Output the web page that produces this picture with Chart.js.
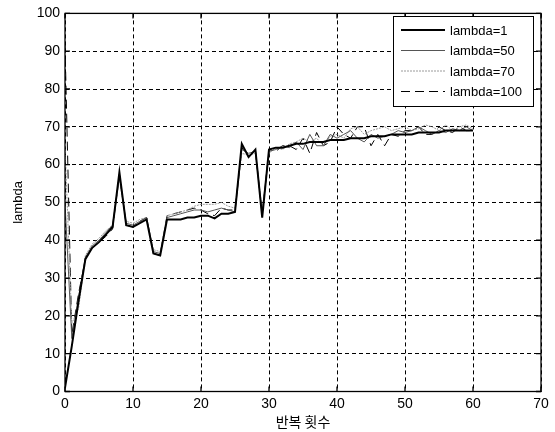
<!DOCTYPE html>
<html>
<head>
<meta charset="utf-8">
<script src="https://cdn.jsdelivr.net/npm/chart.js@4/dist/chart.umd.min.js"></script>
<style>
html,body{margin:0;padding:0;background:#fff;}
#wrap{width:555px;height:432px;}
</style>
</head>
<body>
<div id="wrap"><canvas id="c" width="555" height="432"></canvas></div>
<script>
const iterations = Array.from({length: 61}, (_, i) => i);
const seriesLabels = ["lambda=1", "lambda=50", "lambda=70", "lambda=100"];
const xTicks = [0, 10, 20, 30, 40, 50, 60, 70];
const yTicks = [0, 10, 20, 30, 40, 50, 60, 70, 80, 90, 100];
const xTitle = "반복 횟수";
const yTitle = "lambda";

const lambda1 = [1, 12, 24, 35, 38, 39.5, 41.5, 43.5, 58, 44, 43.5, 44.5, 45.5, 36.5, 36,
  45.5, 45.5, 45.5, 46, 46, 46.5, 46.5, 45.8, 47, 47, 47.5, 65.5, 62, 64, 46, 64,
  64.5, 64.5, 65, 65.5, 65.5, 66, 66, 66, 66.5, 66.5, 66.5, 67, 67, 67, 67.5, 67.5,
  67.5, 68, 68, 68, 68, 68.5, 68.5, 68.5, 68.5, 69, 69, 69, 69, 69];
const lambda50 = [50, 14, 25, 35.5, 38.5, 40, 42, 44, 57, 44.5, 44, 45, 46, 37, 36.5,
  46, 46.5, 47, 47.5, 48, 48, 47.5, 48, 48.5, 48, 47.5, 64, 63, 63.5, 47, 63.5,
  64, 65, 64.5, 66, 64, 68, 65, 65, 68, 67, 68, 69, 67, 66, 68, 67,
  67.5, 68, 69, 68.5, 69, 70, 69, 68, 69, 68.5, 69.5, 69, 70, 69];
const lambda70 = [65, 18, 22, 36, 39, 40.5, 42.5, 44, 56, 45, 44.5, 45.5, 46, 37.5, 37,
  46.5, 47, 47.5, 48, 49, 49.5, 49.5, 49.5, 50, 49, 48.5, 63, 62.5, 63, 48, 63,
  64.5, 64, 65.5, 66, 67, 66, 67, 65, 67.5, 68, 67, 69.5, 70, 68, 69, 69.5,
  70, 69, 69.5, 70, 69, 69.5, 70.5, 70, 69, 70.5, 69, 70, 70.5, 69.5];
const lambda100 = [92, 15, 26, 35, 38, 39.5, 41, 43, 57.5, 44, 43.5, 45, 46, 36.5, 36,
  46.5, 47, 47.5, 48, 48.5, 48, 47, 46.5, 48.5, 48, 48, 64.5, 62, 64, 46.5, 64,
  63.5, 65, 65, 64, 67, 63, 68.5, 65, 66, 70, 68, 67, 70, 70, 65, 68,
  65, 68, 67.5, 69, 69, 70, 68, 68, 70, 69, 68.5, 70, 69, 69];

const seriesValues = [lambda1, lambda50, lambda70, lambda100];
const seriesColors = ["#000000", "#555555", "#9a9a9a", "#000000"];
const seriesWidths = [2, 1, 1, 1];
const seriesDash = [[], [], [2, 1], [9, 5]];

const datasets = seriesLabels.map((lab, k) => ({
  label: lab,
  data: iterations.map((x, i) => ({x: x, y: seriesValues[k][i]})),
  borderColor: seriesColors[k],
  borderWidth: seriesWidths[k],
  borderDash: seriesDash[k],
  pointRadius: 0,
  fill: false,
  tension: 0
}));

const framePlugin = {
  id: 'frame',
  afterDatasetsDraw(chart) {
    const {ctx, chartArea: a, scales} = chart;
    ctx.save();
    ctx.strokeStyle = '#000';
    ctx.lineWidth = 1.3;
    ctx.setLineDash([]);
    ctx.strokeRect(a.left, a.top, a.right - a.left, a.bottom - a.top);
    const t = 5;
    ctx.beginPath();
    xTicks.forEach(v => {
      const px = scales.x.getPixelForValue(v);
      ctx.moveTo(px, a.bottom); ctx.lineTo(px, a.bottom - t);
      ctx.moveTo(px, a.top); ctx.lineTo(px, a.top + t);
    });
    yTicks.forEach(v => {
      const py = scales.y.getPixelForValue(v);
      ctx.moveTo(a.left, py); ctx.lineTo(a.left + t, py);
      ctx.moveTo(a.right, py); ctx.lineTo(a.right - t, py);
    });
    ctx.stroke();

    // legend
    const lx = 393, ly = 16, lw = 140, lh = 90;
    ctx.fillStyle = '#fff';
    ctx.fillRect(lx, ly, lw, lh);
    ctx.lineWidth = 1;
    ctx.strokeRect(lx + 0.5, ly + 0.5, lw, lh);
    ctx.font = '13px "Liberation Sans", Arial, sans-serif';
    ctx.textBaseline = 'middle';
    ctx.textAlign = 'left';
    chart.data.datasets.forEach((ds, k) => {
      const y = 30 + k * 20.5;
      ctx.save();
      ctx.strokeStyle = ds.borderColor;
      ctx.lineWidth = ds.borderWidth;
      ctx.setLineDash(ds.borderDash || []);
      ctx.beginPath();
      ctx.moveTo(401, y); ctx.lineTo(445, y);
      ctx.stroke();
      ctx.restore();
      ctx.fillStyle = '#000';
      ctx.fillText(ds.label, 450, y + 1);
    });
    ctx.restore();
  }
};

new Chart(document.getElementById('c'), {
  type: 'line',
  data: {datasets: datasets},
  options: {
    responsive: false,
    animation: false,
    devicePixelRatio: 1,
    layout: {padding: {top: 10, right: 14, left: 0, bottom: 0}},
    plugins: {legend: {display: false}, tooltip: {enabled: false}},
    scales: {
      x: {
        type: 'linear', min: 0, max: 70,
        afterBuildTicks: s => { s.ticks = xTicks.map(v => ({value: v})); },
        afterFit: s => { s.height = 40.5; },
        ticks: {color: '#000', padding: 4, maxRotation: 0, font: {family: '"Liberation Sans", Arial, sans-serif', size: 14}},
        grid: {color: '#000', lineWidth: 1, drawTicks: false},
        border: {display: false, dash: [4, 3]},
        title: {display: true, text: xTitle, color: '#000', padding: {top: 0, bottom: 2},
          font: {family: '"Noto Sans CJK KR", sans-serif', size: 14}}
      },
      y: {
        type: 'linear', min: 0, max: 100,
        afterBuildTicks: s => { s.ticks = yTicks.map(v => ({value: v})); },
        afterFit: s => { s.width = 65; },
        ticks: {color: '#000', padding: 5, font: {family: '"Liberation Sans", Arial, sans-serif', size: 14}},
        grid: {color: '#000', lineWidth: 1, drawTicks: false},
        border: {display: false, dash: [4, 3]},
        title: {display: true, text: yTitle, color: '#000', padding: {top: 11, bottom: 0},
          font: {family: '"Liberation Sans", Arial, sans-serif', size: 13}}
      }
    }
  },
  plugins: [framePlugin]
});
</script>
</body>
</html>
